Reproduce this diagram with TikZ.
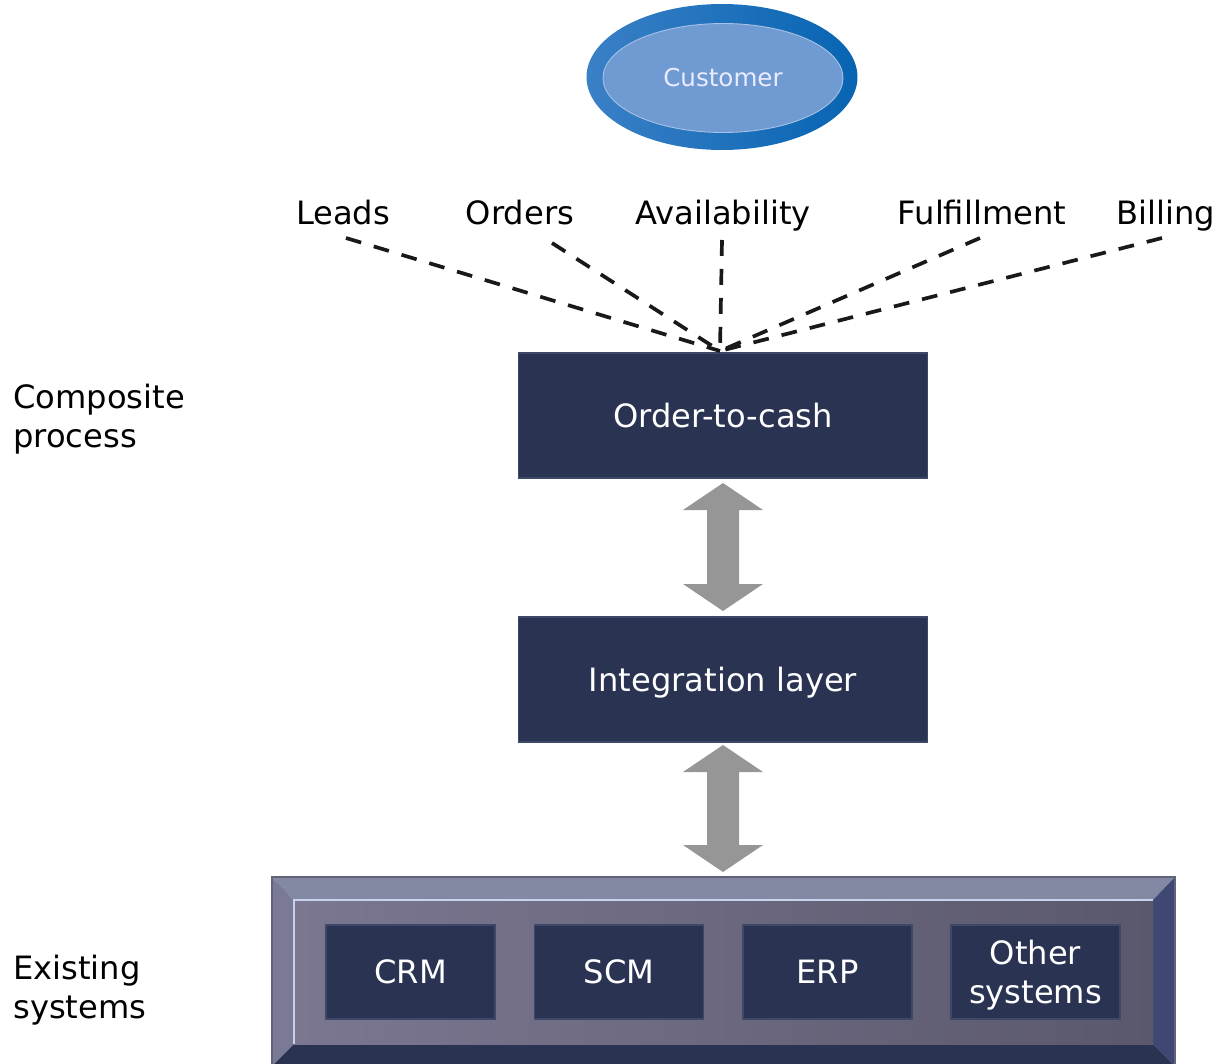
\documentclass[tikz,border=0pt]{standalone}
\usepackage{fontspec}
\setmainfont{DejaVu Sans}
\usepackage{tikz}
\usetikzlibrary{calc,positioning,shapes}

\definecolor{navy}{HTML}{2A3352}
\definecolor{navyline}{HTML}{3E4868}
\definecolor{arrowgray}{HTML}{969696}
\definecolor{custouter}{HTML}{0764B2}
\definecolor{custlight}{HTML}{3A80C6}
\definecolor{custinner}{HTML}{6F9BD2}
\definecolor{custrim}{HTML}{A8C2E6}
\definecolor{beveltop}{HTML}{8389A3}
\definecolor{bevelleft}{HTML}{7B7A96}
\definecolor{bevelright}{HTML}{3F4872}
\definecolor{faceA}{HTML}{7B7791}
\definecolor{faceB}{HTML}{5A586C}
\definecolor{rim}{HTML}{C8D2EC}

\tikzset{
	bigtext/.style={font=\fontsize{18.3}{22}\selectfont},
	layerbox/.style={fill=navy, draw=navyline, line width=0.6pt, text=white, bigtext, text depth=0pt, minimum width=8.2cm, minimum height=2.5cm},
	sysbox/.style={fill=navy, draw=navyline, line width=0.6pt, text=white, bigtext, align=center, text depth=0pt, minimum width=3.38cm, minimum height=1.88cm},
	flowline/.style={dash pattern=on 9pt off 7.5pt, line width=2.1pt, black!90},
	toplabel/.style={bigtext, anchor=base},
	sidelabel/.style={bigtext, align=left, anchor=west, inner sep=0pt}
}

\newcommand{\updown}[2]{
	\fill[arrowgray] ($(#1)+(0,0)$) -- ++(40,27) -- ++(-24,0) -- ($(#2)+(16,-27)$) -- ++(24,0) -- (#2) -- ++(-40,-27) -- ++(24,0) -- ($(#1)+(-16,27)$) -- ++(-24,0) -- cycle;
}

\begin{document}
\begin{tikzpicture}[x=0.02cm,y=-0.02cm]
		\useasboundingbox (0,0) rectangle (1221,1064);

		\node[ellipse, left color=custlight, right color=custouter, minimum width=5.42cm, minimum height=2.92cm] (customer) at (722,77) {};
		\node[ellipse, fill=custinner, draw=custrim, line width=0.5pt, minimum width=4.8cm, minimum height=2.18cm, text=white!92!blue, font=\fontsize{14}{17}\selectfont] (custinner) at (723,78) {Customer};

		\draw (343,225) node[toplabel] (leads) {Leads};
		\draw (520,225) node[toplabel] (orders) {Orders};
		\draw (723,225) node[toplabel] (avail) {Availability};
		\draw (982,225) node[toplabel] (fulfil) {Fulfillment};
		\draw (1166,225) node[toplabel] (billing) {Billing};

		\coordinate (leadsend) at (346,238);
		\coordinate (ordersend) at (552,243);
		\coordinate (availend) at (722,240);
		\coordinate (fulfilend) at (980,238);
		\coordinate (billingend) at (1162,238);

		\node[layerbox] (order) at (723,415.5) {Order-to-cash};
		\node[layerbox] (integ) at (723,679.5) {Integration layer};
		\coordinate (hub) at (720,351);

		\foreach \s in {leadsend,ordersend,availend,fulfilend,billingend}
			\draw[flowline] (\s) -- (hub);

		\coordinate (a1top) at (723,483);
		\coordinate (a1bot) at (723,611);
		\coordinate (a2top) at (723,745);
		\coordinate (a2bot) at (723,872);
		\updown{a1top}{a1bot}
		\updown{a2top}{a2bot}

		\fill[beveltop] (272,877) -- (1175,877) -- (1153,900) -- (294,900) -- cycle;
		\fill[bevelleft] (272,877) -- (294,900) -- (294,1044) -- (272,1066) -- cycle;
		\fill[bevelright] (1175,877) -- (1175,1066) -- (1153,1044) -- (1153,900) -- cycle;
		\fill[navy] (272,1066) -- (294,1044) -- (1153,1044) -- (1175,1066) -- cycle;
		\shade[left color=faceA, right color=faceB] (294,900) rectangle (1153,1044);
		\draw[rim, line width=1.2pt] (294,1044) -- (294,900) -- (1153,900);
		\draw[bevelleft!80!black, line width=0.6pt] (272,1066) -- (272,877) -- (1175,877) -- (1175,1066);

		\node[sysbox] (crm) at (410.5,972) {CRM};
		\node[sysbox] (scm) at (619,972) {SCM};
		\node[sysbox] (erp) at (827.5,972) {ERP};
		\node[sysbox] (other) at (1035.5,972) {Other\\systems};

		\node[sidelabel] (composite) at (13,419) {Composite\\process};
		\node[sidelabel] (existing) at (13,990) {Existing\\systems};
	\end{tikzpicture}
\end{document}
